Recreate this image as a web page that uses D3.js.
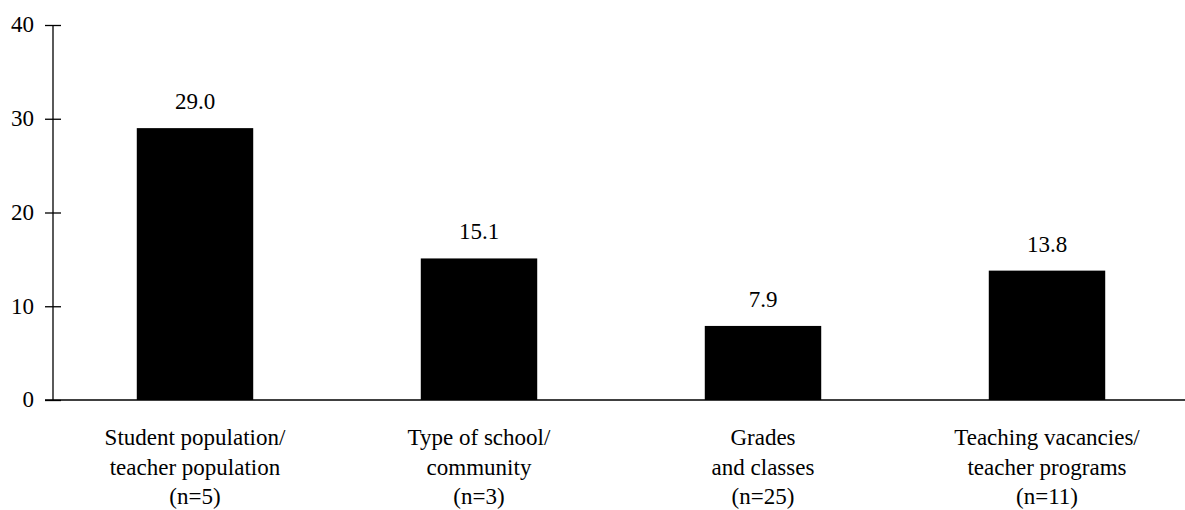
<!DOCTYPE html>
<html>
<head>
<meta charset="utf-8">
<script src="https://cdn.jsdelivr.net/npm/d3@7"></script>
<style>
  body { margin: 0; background: #fff; }
</style>
</head>
<body>
<svg width="1185" height="510"></svg>
<script>
'use strict'

const categories = [
  ['Student population/', 'teacher population', '(n=5)'],
  ['Type of school/', 'community', '(n=3)'],
  ['Grades', 'and classes', '(n=25)'],
  ['Teaching vacancies/', 'teacher programs', '(n=11)']
]
const values = [29.0, 15.1, 7.9, 13.8]
const yTicks = [0, 10, 20, 30, 40]

const FONT = '"Liberation Serif", "Times New Roman", serif'
const FS = 23
const svg = d3.select('svg')
const axisX = 53
const baseY = 400

const x = d3.scaleBand()
  .domain(d3.range(values.length))
  .range([axisX, axisX + 1136])
  .paddingInner(0.59)
  .paddingOuter(0.295)

const y = d3.scaleLinear().domain([0, 40]).range([baseY, 25])

// bars
svg.append('g')
  .selectAll('rect')
  .data(values)
  .join('rect')
  .attr('x', (d, i) => x(i))
  .attr('y', (d) => y(d))
  .attr('width', x.bandwidth())
  .attr('height', (d) => y(0) - y(d))
  .attr('fill', '#000')

// value labels
svg.append('g')
  .selectAll('text')
  .data(values)
  .join('text')
  .attr('x', (d, i) => x(i) + x.bandwidth() / 2)
  .attr('y', (d) => y(d) - 19)
  .attr('text-anchor', 'middle')
  .style('font-family', FONT)
  .style('font-size', FS + 'px')
  .text((d) => d.toFixed(1))

// y axis
const yAxis = svg.append('g')
  .attr('transform', `translate(${axisX},0)`)
  .call(d3.axisLeft(y).tickValues(yTicks).tickSize(8))
yAxis.select('.domain').attr('d', `M0,${y(40)}V${y(0)}`).attr('stroke', '#000').attr('stroke-width', 1.3)
yAxis.selectAll('.tick line').attr('x1', -8).attr('x2', 8).attr('stroke', '#000').attr('stroke-width', 1.3)
yAxis.selectAll('.tick text')
  .attr('x', -19)
  .attr('dy', '0.3em')
  .attr('fill', '#000')
  .style('font-family', FONT)
  .style('font-size', FS + 'px')

// x axis line
svg.append('line')
  .attr('x1', axisX - 8).attr('x2', 1185)
  .attr('y1', y(0)).attr('y2', y(0))
  .attr('stroke', '#000').attr('stroke-width', 1.3)

// category labels
const labels = svg.append('g')
  .selectAll('text')
  .data(categories)
  .join('text')
  .attr('text-anchor', 'middle')
  .style('font-family', FONT)
  .style('font-size', FS + 'px')
  .attr('x', (d, i) => x(i) + x.bandwidth() / 2)

labels.selectAll('tspan')
  .data((d) => d)
  .join('tspan')
  .attr('x', function () { return d3.select(this.parentNode).attr('x') })
  .attr('y', (d, j) => 445 + j * 29.5)
  .text((d) => d)
</script>
</body>
</html>
